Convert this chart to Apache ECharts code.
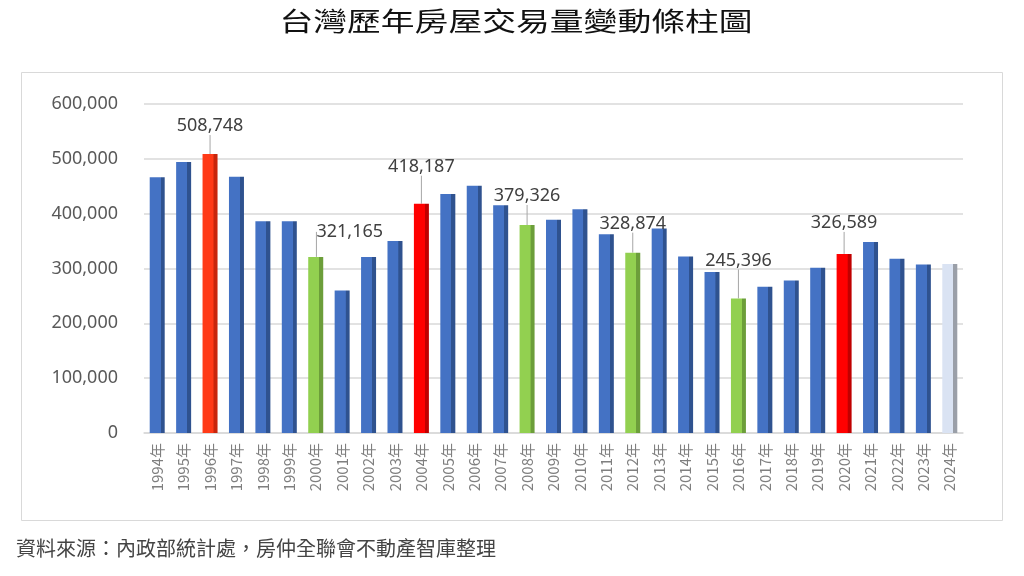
<!DOCTYPE html>
<html>
<head>
<meta charset="utf-8">
<title>台灣歷年房屋交易量變動條柱圖</title>
<style>
  html, body { margin: 0; padding: 0; background: #fff; }
  #main { width: 1024px; height: 576px; }
</style>
<script src="https://cdn.jsdelivr.net/npm/echarts@6/dist/echarts.min.js"></script>
</head>
<body>
<div id="main"></div>
<script>
// 年度
var years = ['1994', '1995', '1996', '1997', '1998', '1999', '2000', '2001', '2002', '2003',
  '2004', '2005', '2006', '2007', '2008', '2009', '2010', '2011', '2012', '2013',
  '2014', '2015', '2016', '2017', '2018', '2019', '2020', '2021', '2022', '2023', '2024'];
// 買賣移轉棟數
var volumes = [466500, 494000, 508748, 467500, 386000, 386000, 321165, 260000, 321000, 350000,
  418187, 436000, 451000, 415500, 379326, 389000, 408000, 362500, 328874, 373000,
  322000, 293500, 245396, 266800, 278000, 301500, 326589, 348500, 318000, 307500, 308000];
var peakYears = ['1996', '2004', '2020'];
var lowYears = ['2000', '2008', '2012', '2016'];
var pendingYears = ['2024'];
var yTicks = [0, 100000, 200000, 300000, 400000, 500000, 600000];

// 標註位置微調（dx, dy）
var labelShift = {
  '1996': [0, -13], '2000': [34, -10], '2004': [0, -22], '2008': [0, -14],
  '2012': [0, -14], '2016': [0, -23], '2020': [0, -16]
};

function barFill(base, side) {
  return new echarts.graphic.LinearGradient(0, 0, 1, 0, [
    { offset: 0, color: base }, { offset: 0.72, color: base },
    { offset: 0.74, color: side }, { offset: 1, color: side }
  ]);
}

var barData = years.map(function (y, i) {
  var fill = barFill('#4472C4', '#2F528F');
  if (y === '1996') fill = barFill('#FF3A17', '#C8260C');
  else if (peakYears.indexOf(y) >= 0) fill = barFill('#FF0000', '#C00000');
  else if (lowYears.indexOf(y) >= 0) fill = barFill('#92D050', '#6C9E3A');
  else if (pendingYears.indexOf(y) >= 0) fill = barFill('#DAE3F3', '#9A9FA8');
  var item = { value: volumes[i], itemStyle: { color: fill } };
  if (labelShift[y]) {
    item.label = { show: true };
  }
  return item;
});

var myChart = echarts.init(document.getElementById('main'));
myChart.setOption({
  animation: false,
  backgroundColor: '#fff',
  graphic: [
    {
      type: 'text', x: 516, y: 8, scaleX: 1.3, originX: 0,
      style: {
        text: '台灣歷年房屋交易量變動條柱圖',
        font: '26px "Noto Sans CJK TC"', fill: '#111',
        textAlign: 'center', textVerticalAlign: 'top'
      }
    },
    {
      type: 'rect', left: 19, top: 70,
      shape: { width: 981, height: 448 },
      style: { fill: 'none', stroke: '#d9d9d9', lineWidth: 1 }
    },
    {
      type: 'text', left: 16, top: 538,
      style: {
        text: '資料來源：內政部統計處，房仲全聯會不動產智庫整理',
        font: '20px "Noto Sans CJK TC"', fill: '#444'
      }
    }
  ],
  grid: { left: 144, right: 61, top: 104, bottom: 143 },
  xAxis: {
    type: 'category',
    data: years,
    axisLine: { lineStyle: { color: '#d9d9d9', width: 1.5 } },
    axisTick: { show: false },
    axisLabel: {
      rotate: 90, margin: 10, color: '#7f7f7f', fontSize: 15,
      fontFamily: 'Noto Sans CJK TC',
      formatter: function (v) { return v + '年'; }
    }
  },
  yAxis: {
    type: 'value',
    min: yTicks[0], max: yTicks[yTicks.length - 1], interval: 100000,
    axisLine: { show: false },
    axisTick: { show: false },
    splitLine: { lineStyle: { color: '#d9d9d9', width: 1.5 } },
    axisLabel: {
      margin: 26, color: '#595959', fontSize: 18, fontFamily: 'Noto Sans',
      formatter: function (v) { return v.toLocaleString('en-US'); }
    }
  },
  series: [{
    type: 'bar',
    data: barData,
    barWidth: 15,
    label: {
      show: false, position: 'top', distance: 6,
      color: '#404040', fontSize: 18, fontFamily: 'Noto Sans',
      formatter: function (p) { return p.value.toLocaleString('en-US'); }
    },
    labelLine: { show: true, lineStyle: { color: '#a6a6a6', width: 1 } },
    labelLayout: function (p) {
      var s = labelShift[years[p.dataIndex]];
      if (!s) return {};
      return { dx: s[0], dy: s[1] };
    }
  }]
});
</script>
</body>
</html>
